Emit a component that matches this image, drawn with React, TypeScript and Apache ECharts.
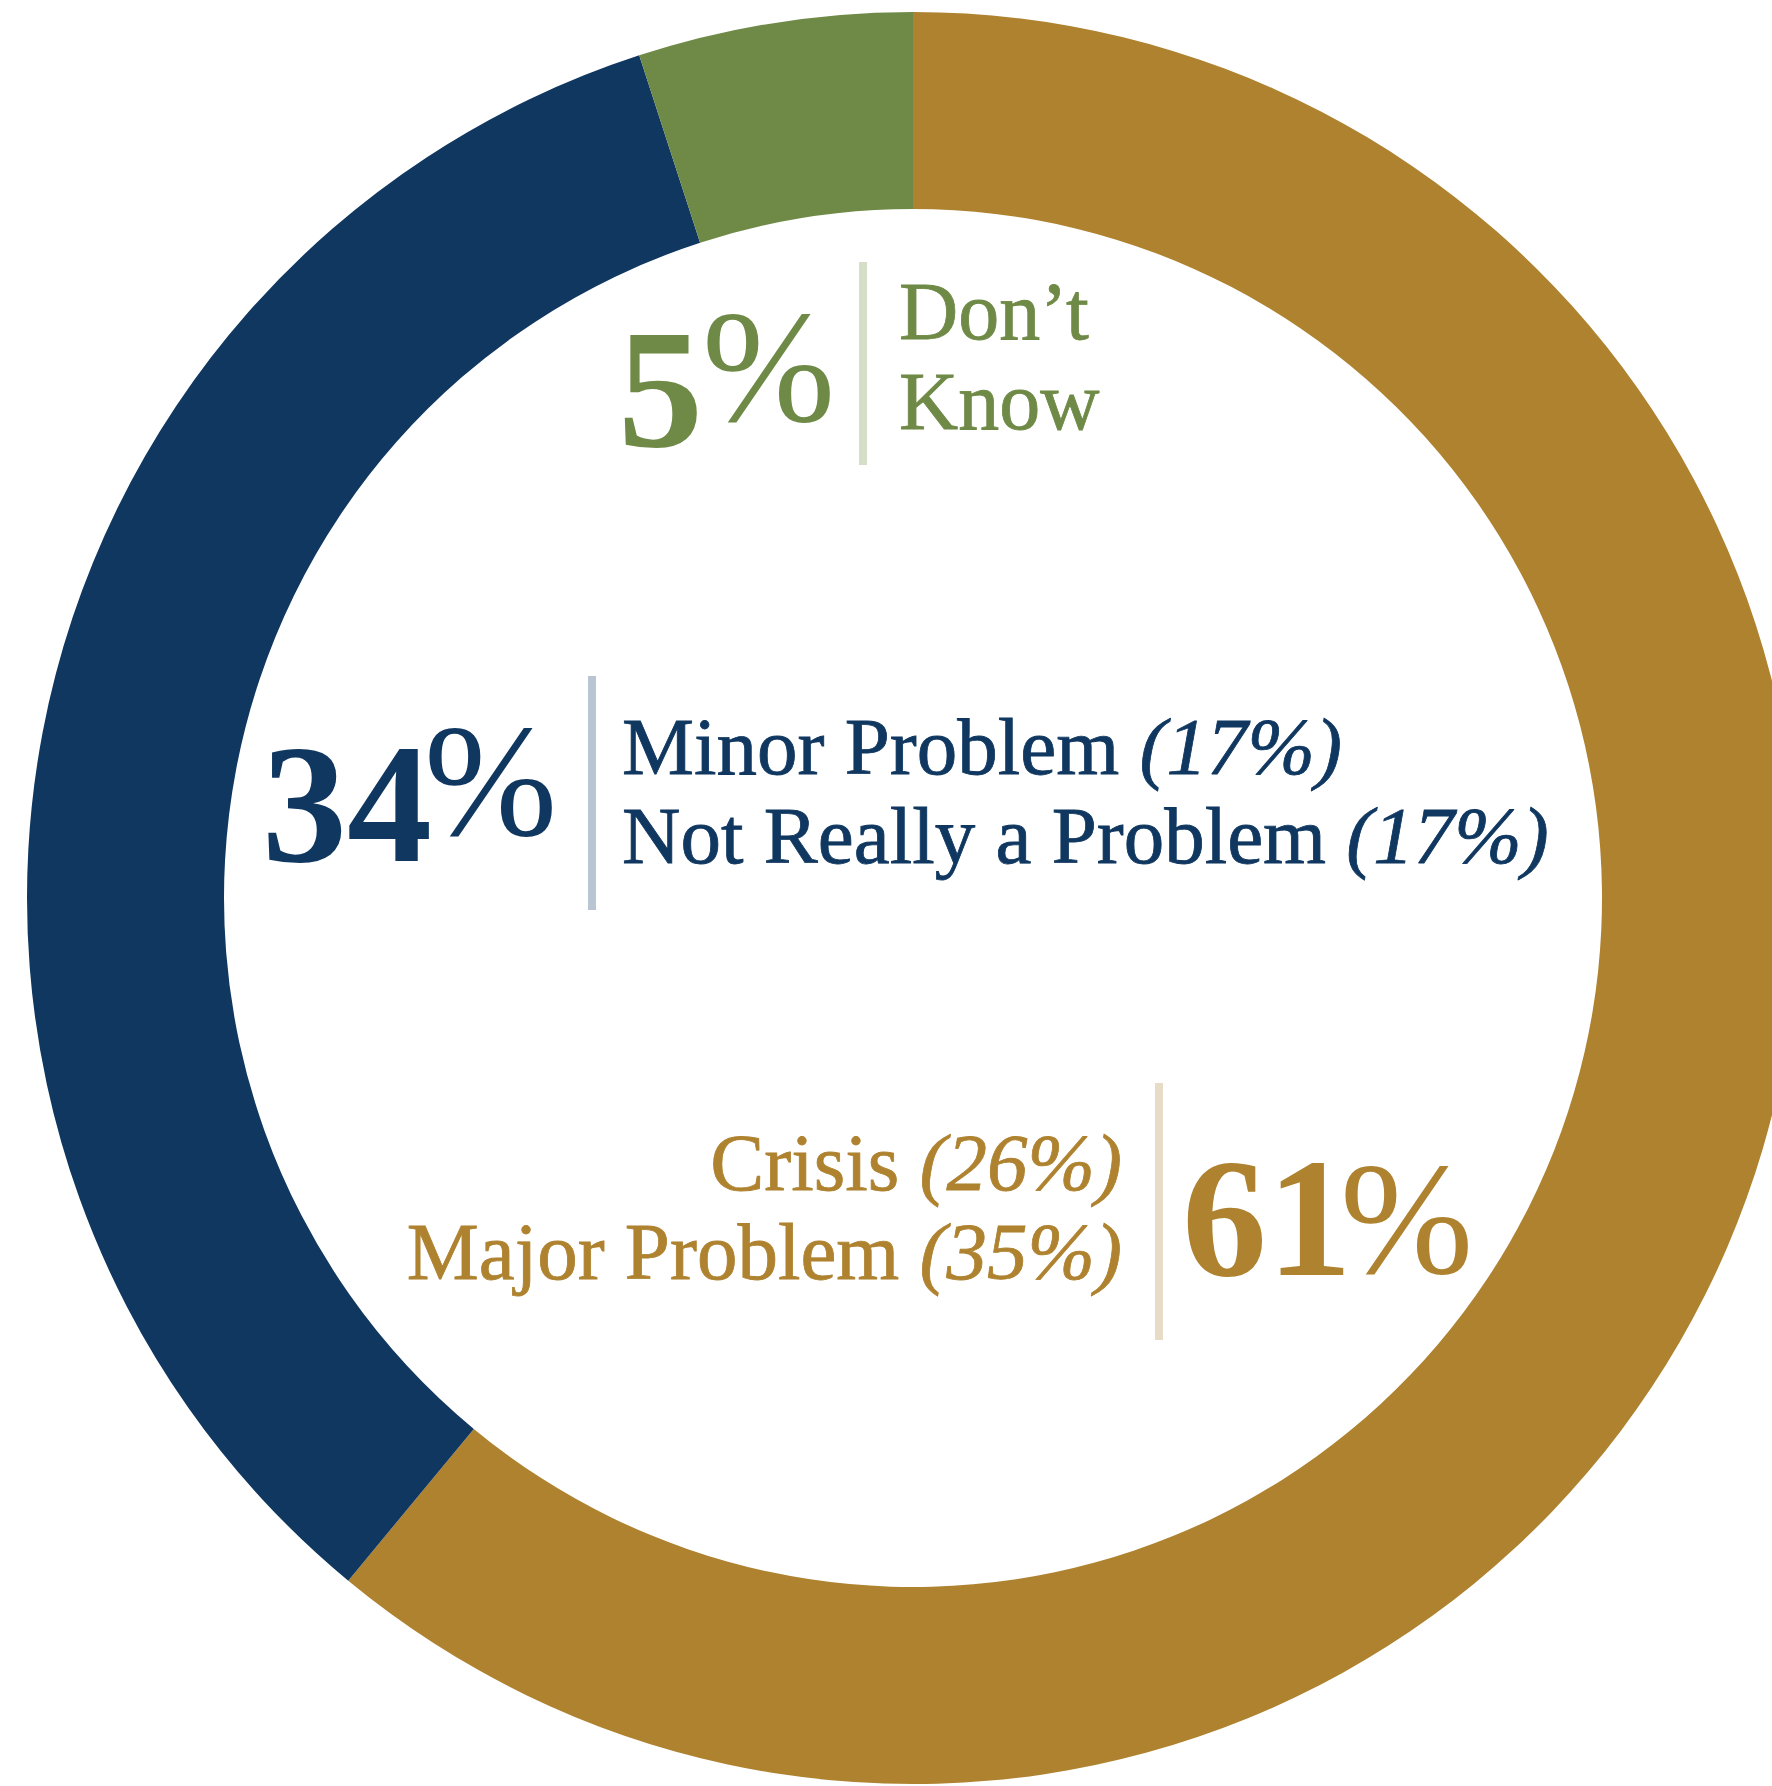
import React, { useEffect, useRef } from "react";
import * as echarts from "echarts";

const SLICE_NAMES = ["Major Problem or Crisis", "Minor or Not Really a Problem", "Don’t Know"];
const SLICE_VALUES = [61, 34, 5];
const SLICE_COLORS = ["#AE822F", "#0F3760", "#6F8A47"];
const DIVIDER_COLORS = ["#E7DDC6", "#B9C5D3", "#D6DDC9"];
const PROBLEM_PARTS = ["Crisis", "Major Problem"];
const PROBLEM_VALUES = [26, 35];
const NOT_PROBLEM_PARTS = ["Minor Problem", "Not Really a Problem"];
const NOT_PROBLEM_VALUES = [17, 17];
const DONT_KNOW_LINES = ["Don’t", "Know"];

const SERIF = "'Liberation Serif', 'Times New Roman', serif";
const LABEL_SIZE = 81;

function bigNumber(value: number, x: number, y: number, pctX: number, pctY: number, color: string) {
  return [
    {
      type: "text",
      x,
      y,
      silent: true,
      style: {
        text: String(value),
        fontFamily: SERIF,
        fontWeight: "bold",
        fontSize: 170,
        fill: color,
        align: "left",
        verticalAlign: "middle",
      },
    },
    {
      type: "text",
      x: pctX,
      y: pctY,
      silent: true,
      style: {
        text: "%",
        fontFamily: SERIF,
        fontWeight: "normal",
        fontSize: 160,
        fill: color,
        align: "left",
        verticalAlign: "middle",
      },
    },
  ];
}

function partsLabel(parts: string[], vals: number[], x: number, y: number, color: string, align: string) {
  const text = parts.map((p, i) => `{r|${p} }{i|(${vals[i]}%)}`).join("\n");
  const common = {
    fontFamily: SERIF,
    fontSize: LABEL_SIZE,
    lineHeight: 89,
    fill: color,
    stroke: color,
    lineWidth: 0.8,
    align,
  };
  return {
    type: "text",
    x,
    y,
    silent: true,
    style: {
      text,
      ...common,
      verticalAlign: "top",
      rich: {
        r: { ...common },
        i: { ...common, fontStyle: "italic" },
      },
    },
  };
}

function divider(x: number, y1: number, y2: number, color: string) {
  return {
    type: "rect",
    silent: true,
    shape: { x: x - 4, y: y1, width: 8, height: y2 - y1 },
    style: { fill: color },
  };
}

export default function App() {
  const ref = useRef<HTMLDivElement>(null);
  useEffect(() => {
    const chart = echarts.init(ref.current!, null, { renderer: "svg" });
    const graphic: any[] = [
      // Don't Know (green)
      ...bigNumber(SLICE_VALUES[2], 618, 389, 702, 367, SLICE_COLORS[2]),
      divider(863, 262, 465, DIVIDER_COLORS[2]),
      {
        type: "text",
        x: 899,
        y: 266,
        silent: true,
        style: {
          text: DONT_KNOW_LINES.join("\n"),
          fontFamily: SERIF,
          fontSize: 82,
          lineHeight: 90,
          fill: SLICE_COLORS[2],
          stroke: SLICE_COLORS[2],
          lineWidth: 0.8,
          align: "left",
          verticalAlign: "top",
        },
      },
      // Not a problem (navy)
      ...bigNumber(SLICE_VALUES[1], 262, 804, 424, 781, SLICE_COLORS[1]),
      divider(592, 676, 910, DIVIDER_COLORS[1]),
      partsLabel(NOT_PROBLEM_PARTS, NOT_PROBLEM_VALUES, 622, 702, SLICE_COLORS[1], "left"),
      // Problem (gold)
      partsLabel(PROBLEM_PARTS, PROBLEM_VALUES, 1122, 1118, SLICE_COLORS[0], "right"),
      divider(1159, 1083, 1340, DIVIDER_COLORS[0]),
      ...bigNumber(SLICE_VALUES[0], 1182, 1218, 1340, 1219, SLICE_COLORS[0]),
    ];
    chart.setOption({
      animation: false,
      backgroundColor: "#ffffff",
      series: [
        {
          type: "pie",
          center: [913, 898],
          radius: [689, 886],
          startAngle: 90,
          clockwise: true,
          silent: true,
          label: { show: false },
          labelLine: { show: false },
          itemStyle: { borderWidth: 0 },
          data: SLICE_NAMES.map((name, i) => ({
            name,
            value: SLICE_VALUES[i],
            itemStyle: { color: SLICE_COLORS[i] },
          })),
        },
      ],
      graphic,
    });
    return () => chart.dispose();
  }, []);
  return (
    <div
      ref={ref}
      style={{ position: "absolute", left: 0, top: 0, width: 1772, height: 1786 }}
    />
  );
}
